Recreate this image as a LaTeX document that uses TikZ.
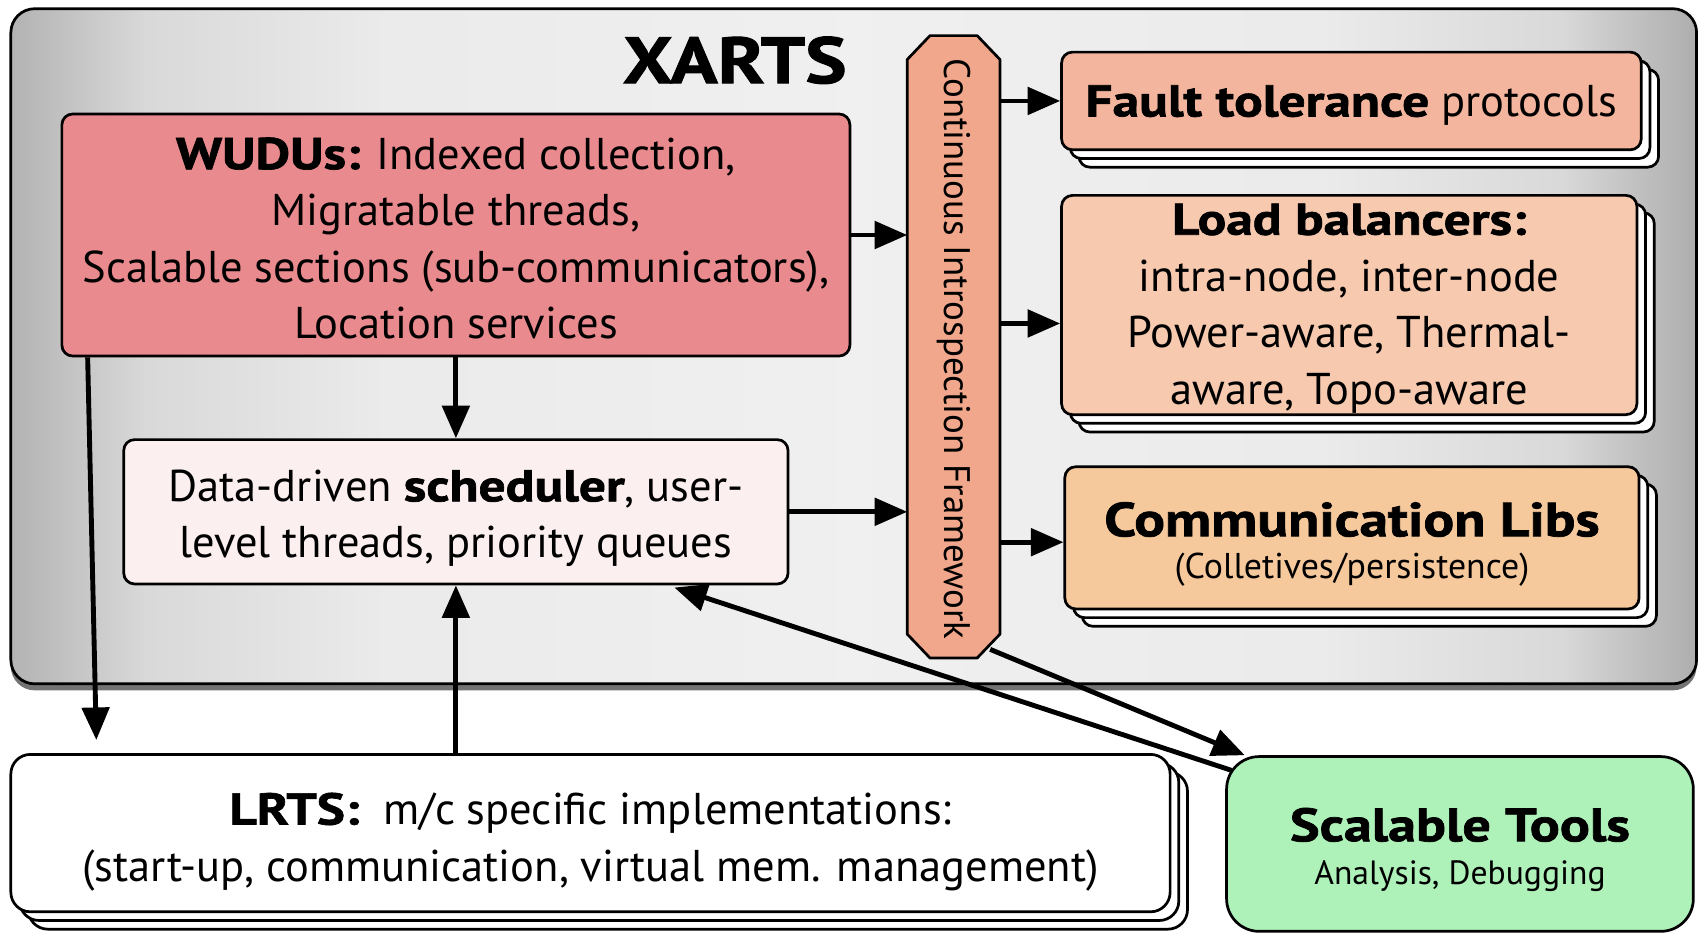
\documentclass[tikz,border=0pt]{standalone}
\usepackage{fontspec}
\setmainfont{PT Sans}[BoldFeatures={FakeStretch=1.2,FakeBold=1.5}]
\usetikzlibrary{arrows.meta,shadows,calc}
\pgfdeclarehorizontalshading{xartsshade}{100bp}{color(0bp)=(black!30); color(25bp)=(black!30); color(29bp)=(black!15); color(36bp)=(black!8); color(50bp)=(black!6); color(64bp)=(black!8); color(71bp)=(black!15); color(75bp)=(black!32); color(100bp)=(black!32)}
\definecolor{wuducol}{HTML}{E98A8E}
\definecolor{schedcol}{HTML}{FCEFEF}
\definecolor{cifcol}{HTML}{F1A78B}
\definecolor{ftcol}{HTML}{F3B59D}
\definecolor{lbcol}{HTML}{F7CAB0}
\definecolor{clcol}{HTML}{F6C99D}
\definecolor{toolcol}{HTML}{AEF2B9}
\begin{document}
\begin{tikzpicture}[x=1pt,y=-1pt,
  box/.style={draw=black,line width=2.5pt,rounded corners=10pt,inner sep=0pt},
  stack/.style={double copy shadow={shadow xshift=8pt,shadow yshift=-8pt,fill=white,draw=black,line width=2.5pt}},
  maintext/.style={font=\fontsize{41}{52}\selectfont,align=center,inner sep=0pt},
  arr/.style={line width=4.5pt,-{Triangle[length=30pt,width=25pt]}}]
\useasboundingbox (0,0) rectangle (1568,863.2);
% outer XARTS box
\path[shading=xartsshade,draw=black,line width=2.5pt,rounded corners=22pt,
  drop shadow={shadow xshift=0pt,shadow yshift=-6pt,opacity=0.55,fill=black}]
  (10,8) rectangle (1563,630);
\node[font=\fontsize{60}{64}\selectfont\bfseries,anchor=base] (title) at (677,76.5) {XARTS};
% WUDUs and scheduler
\node[box,fill=wuducol,minimum width=726pt,minimum height=223pt] (wudu) at (420,216.5) {};
\node[maintext] (wudutext) at ($(wudu.center)+(0,3)$)
  {\textbf{WUDUs:} Indexed collection,\\ Migratable threads,\\ Scalable sections (sub-communicators),\\ Location services};
\node[box,fill=schedcol,minimum width=612pt,minimum height=133pt] (sched) at (420,471.5) {};
\node[maintext] (schedtext) at ($(sched.center)+(0,6)$)
  {Data-driven \textbf{scheduler}, user-\\ level threads, priority queues};
% CIF
\path node[minimum width=85pt,minimum height=573pt,inner sep=0pt] (cif) at (878.5,319.5) {};
\draw[fill=cifcol,line width=2.5pt,line join=round]
  ($(cif.north west)+(0,22)$) -- ($(cif.north west)+(21,0)$) -- ($(cif.north east)+(-21,0)$) --
  ($(cif.north east)+(0,22)$) -- ($(cif.south east)+(0,-22)$) -- ($(cif.south east)+(-21,0)$) --
  ($(cif.south west)+(21,0)$) -- ($(cif.south west)+(0,-22)$) -- cycle;
\node[rotate=-90,font=\fontsize{34}{40}\selectfont] (ciftext) at ($(cif.center)+(0,2)$) {Continuous Introspection Framework};
% right boxes
\node[box,stack,fill=ftcol,minimum width=534pt,minimum height=90pt] (ft) at (1245,93) {};
\node[maintext] (fttext) at ($(ft.center)+(0,4)$) {\textbf{Fault tolerance} protocols};
\node[box,stack,fill=lbcol,minimum width=530pt,minimum height=202pt] (lb) at (1243,281) {};
\node[maintext] (lbtext) at ($(lb.center)+(0,3)$)
  {\textbf{Load balancers:}\\ intra-node, inter-node\\ Power-aware, Thermal-\\ aware, Topo-aware};
\node[box,stack,fill=clcol,minimum width=529pt,minimum height=131pt] (cl) at (1245.5,495.5) {};
\node[anchor=base,font=\fontsize{44}{50}\selectfont\bfseries] (cltitle) at (1245.5,494) {Communication Libs};
\node[anchor=base,font=\fontsize{33}{40}\selectfont] (clsub) at (1245.5,533) {(Colletives/persistence)};
% bottom boxes
\node[box,stack,fill=white,rounded corners=18pt,minimum width=1068pt,minimum height=145pt] (lrts) at (544,767.5) {};
\node[maintext] (lrtstext) at ($(lrts.center)+(0,8)$)
  {\textbf{LRTS:}\ \ m/c specific implementations:\\ (start-up, communication, virtual mem. management)};
\node[box,fill=toolcol,rounded corners=30pt,minimum width=430pt,minimum height=161pt] (tools) at (1345,777.5) {};
\node[anchor=base,font=\fontsize{43}{50}\selectfont\bfseries] (tooltitle) at (1345,775) {Scalable Tools};
\node[anchor=base,font=\fontsize{31}{40}\selectfont] (toolsub) at (1345,815) {Analysis, Debugging};
% arrows
\draw[arr] (wudu.east) -- (wudu.east -| cif.west);
\draw[arr] (sched.east) -- (sched.east -| cif.west);
\draw[arr] (wudu.south) -- (sched.north);
\draw[arr] (sched.south |- lrts.north) -- (sched.south);
\draw[arr] ($(wudu.south west)+(25,0)$) -- ($(lrts.north west)+(80,-12)$);
\draw[arr] (cif.east |- ft.west) -- (ft.west);
\draw[arr] ($(cif.east |- lb.west)+(0,17)$) -- ($(lb.west)+(0,17)$);
\draw[arr] ($(cif.east |- cl.west)+(0,4)$) -- ($(cl.west)+(0,4)$);
\draw[arr] ($(cif.south east)+(-9,-8)$) -- ($(tools.north west)+(18,0)$);
\draw[arr] ($(tools.north west)+(6,14)$) -- ($(sched.south east)+(-106,2)$);
\end{tikzpicture}
\end{document}
